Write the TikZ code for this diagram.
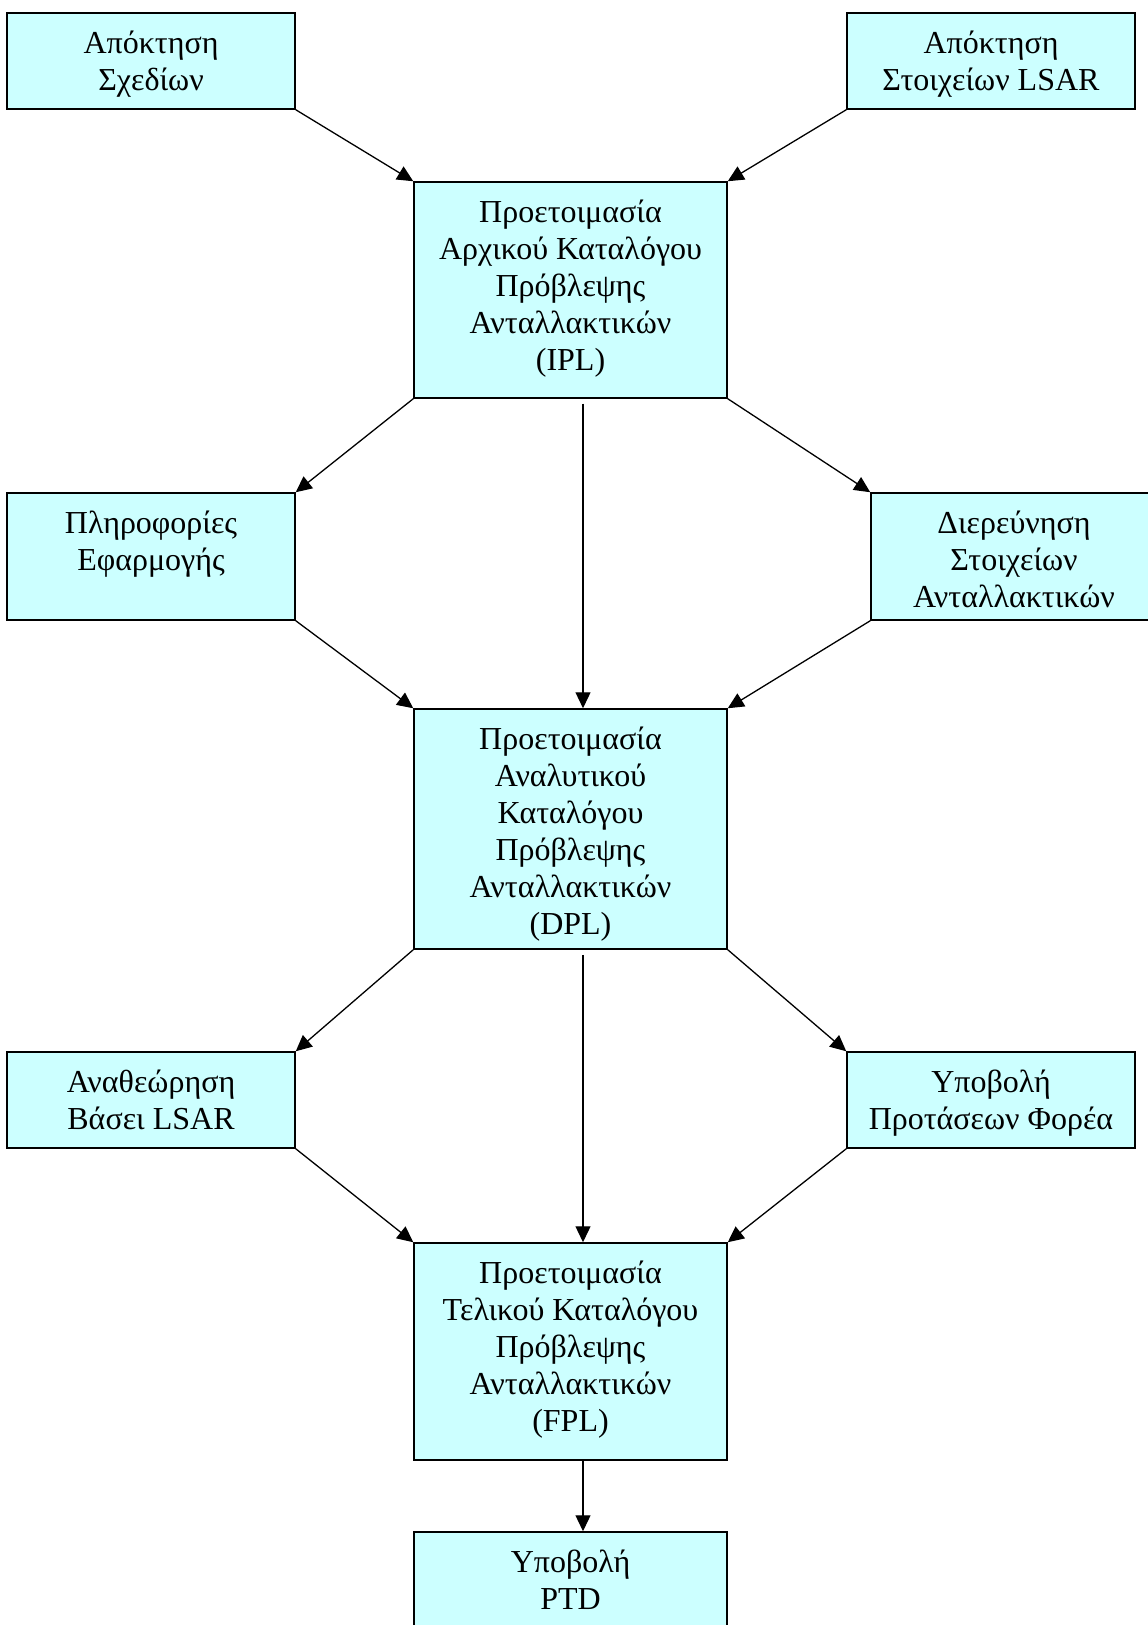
\documentclass[tikz,border=0pt]{standalone}
\usepackage{fontspec}
\setmainfont{Liberation Serif}
\usetikzlibrary{arrows.meta,fit,calc}
\definecolor{boxfill}{HTML}{CCFFFF}
\begin{document}
\begin{tikzpicture}[x=0.5pt,y=-0.5pt,
  stepbox/.style={draw=black, line width=0.75pt, fill=boxfill, inner sep=0pt, rectangle},
  boxtext/.style={anchor=north, align=center, inner sep=0pt,
    font=\fontsize{16}{18.5}\selectfont, execute at begin node={\rule{0pt}{14pt}}},
  flow/.style={-{Triangle[length=8pt,width=7.5pt]}, line width=0.65pt}]
\useasboundingbox (0,0) rectangle (1147,1625);

% box: name, corners, text
\newcommand\flowbox[6]{%
  \node[stepbox, fit={(#2,#3) (#4,#5)}] (#1) {};
  \node[boxtext] (#1-t) at ($(#1.north)+(0,18)$) {#6};
}

\flowbox{plans}{7}{13}{295}{109}{Απόκτηση\\Σχεδίων}
\flowbox{lsar}{847}{13}{1135}{109}{Απόκτηση\\Στοιχείων LSAR}
\flowbox{ipl}{414}{182}{727}{398}{Προετοιμασία\\Αρχικού Καταλόγου\\Πρόβλεψης\\Ανταλλακτικών\\(IPL)}
\flowbox{info}{7}{493}{295}{620}{Πληροφορίες\\Εφαρμογής}
\flowbox{parts}{871}{493}{1157}{620}{Διερεύνηση\\Στοιχείων\\Ανταλλακτικών}
\flowbox{dpl}{414}{709}{727}{949}{Προετοιμασία\\Αναλυτικού\\Καταλόγου\\Πρόβλεψης\\Ανταλλακτικών\\(DPL)}
\flowbox{review}{7}{1052}{295}{1148}{Αναθεώρηση\\Βάσει LSAR}
\flowbox{props}{847}{1052}{1135}{1148}{Υποβολή\\Προτάσεων Φορέα}
\flowbox{fpl}{414}{1243}{727}{1460}{Προετοιμασία\\Τελικού Καταλόγου\\Πρόβλεψης\\Ανταλλακτικών\\(FPL)}
\flowbox{ptd}{414}{1532}{727}{1660}{Υποβολή\\PTD}

% connectors
\draw[flow] (plans.south east) -- (ipl.north west);
\draw[flow] (lsar.south west) -- (ipl.north east);
\draw[flow] (ipl.south west) -- (info.north east);
\draw[flow] (ipl.south east) -- (parts.north west);
\draw[flow, shorten <=2.5pt] ([xshift=6.25pt]ipl.south) -- ([xshift=6.25pt]dpl.north);
\draw[flow] (info.south east) -- (dpl.north west);
\draw[flow] (parts.south west) -- (dpl.north east);
\draw[flow] (dpl.south west) -- (review.north east);
\draw[flow] (dpl.south east) -- (props.north west);
\draw[flow, shorten <=2.5pt] ([xshift=6.25pt]dpl.south) -- ([xshift=6.25pt]fpl.north);
\draw[flow] (review.south east) -- (fpl.north west);
\draw[flow] (props.south west) -- (fpl.north east);
\draw[flow] ([xshift=6.25pt]fpl.south) -- ([xshift=6.25pt]ptd.north);
\end{tikzpicture}
\end{document}
